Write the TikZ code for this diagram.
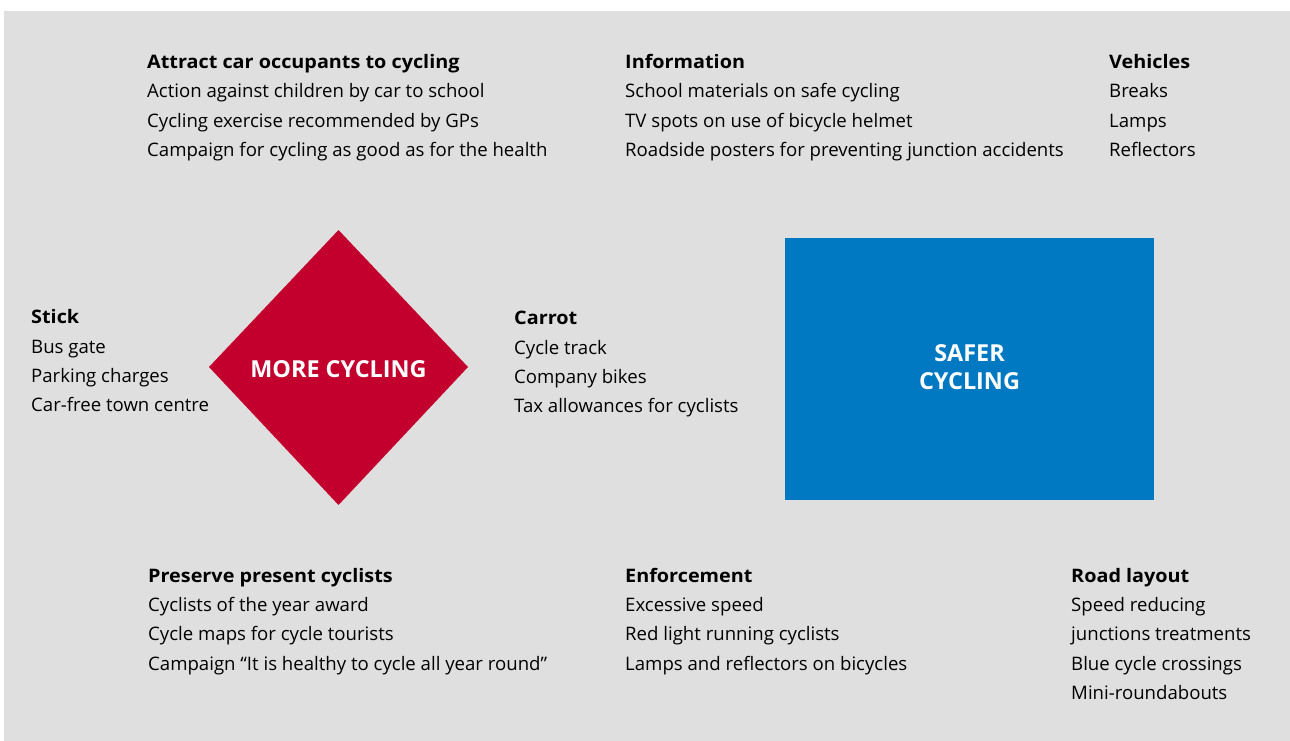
\documentclass[tikz,border=0pt]{standalone}
\usepackage{fontspec}
\setmainfont{Open Sans}
\newfontfamily\headfont{Open Sans}[FakeStretch=1.065]
\begin{document}
\begin{tikzpicture}[x=1pt,y=-1pt,
  txt/.style={inner sep=0pt,anchor=base west,font=\fontsize{18.6}{22}\selectfont,text=black},
  head/.style={txt,font=\fontsize{18.6}{22}\selectfont\headfont\bfseries,text=black},
  boxlabel/.style={text=white,font=\fontsize{23.4}{29}\selectfont\bfseries,align=center}]
\definecolor{panel}{HTML}{DFDFDF}
\definecolor{morered}{HTML}{C3002D}
\definecolor{saferblue}{HTML}{0079C2}
\useasboundingbox (0,0) rectangle (1290,741);
\fill[panel] (4,11) rectangle (1290,741);

% central shapes
\fill[morered] (338.5,230) -- (468,367) -- (338.5,505) -- (209,367) -- cycle;
\node[boxlabel] (more) at (338.5,369) {MORE CYCLING};
\fill[saferblue] (785,238) rectangle (1154,500);
\node[boxlabel] (safer) at (969.5,367.5) {SAFER\\[-1pt]CYCLING};

% measure groups: heading + lines
\newcommand\measures[5]{%
  \node[head] (#1h) at (#2,#3) {#4};
  \foreach \t [count=\i] in {#5}
    \node[txt] (#1\i) at (#2,{#3+\i*29.3}) {\t};}

\measures{att}{147}{68.7}{Attract car occupants to cycling}
  {Action against children by car to school,Cycling exercise recommended by GPs,Campaign for cycling as good as for the health}
\measures{inf}{625}{68.7}{Information}
  {School materials on safe cycling,TV spots on use of bicycle helmet,Roadside posters for preventing junction accidents}
\measures{veh}{1109}{68.7}{Vehicles}
  {Breaks,Lamps,Reflectors}
\measures{stk}{31}{323.7}{Stick}
  {Bus gate,Parking charges,Car-free town centre}
\measures{car}{514}{324.7}{Carrot}
  {Cycle track,Company bikes,Tax allowances for cyclists}
\measures{pre}{148}{582.3}{Preserve present cyclists}
  {Cyclists of the year award,Cycle maps for cycle tourists,Campaign “It is healthy to cycle all year round”}
\measures{enf}{625}{582.3}{Enforcement}
  {Excessive speed,Red light running cyclists,Lamps and reflectors on bicycles}
\measures{road}{1071}{582.3}{Road layout}
  {Speed reducing,junctions treatments,Blue cycle crossings,Mini-roundabouts}
\end{tikzpicture}
\end{document}
